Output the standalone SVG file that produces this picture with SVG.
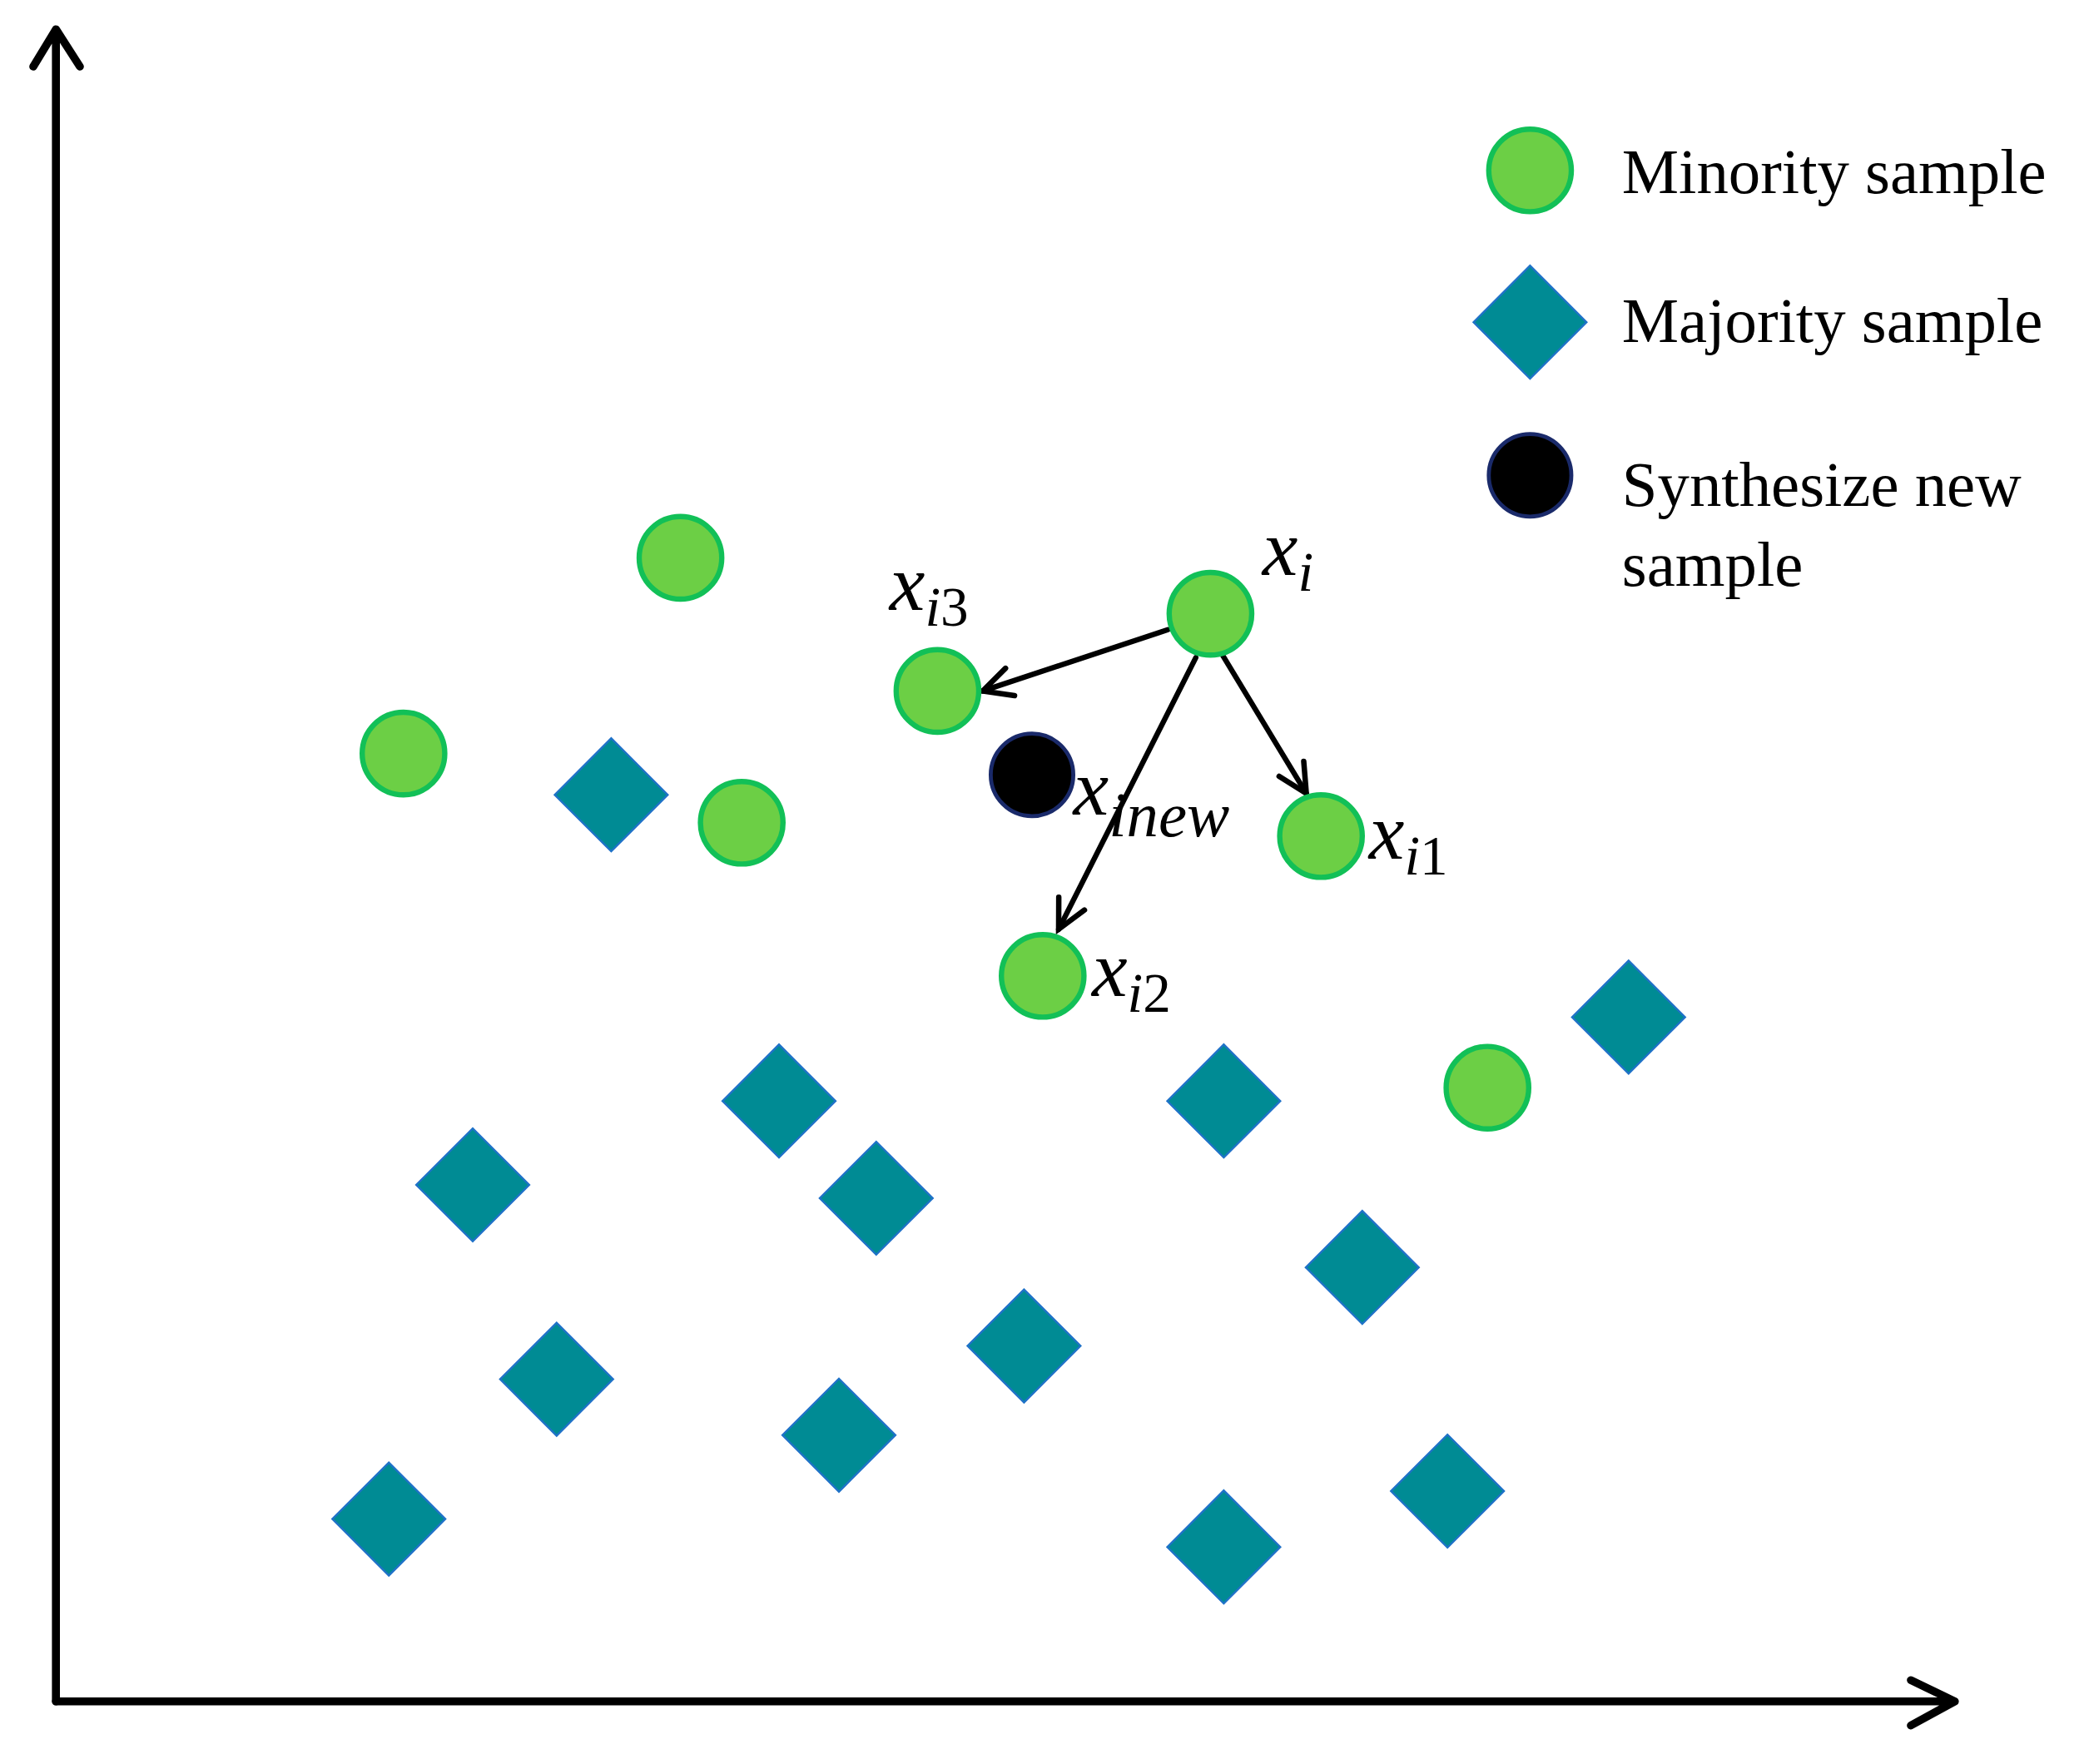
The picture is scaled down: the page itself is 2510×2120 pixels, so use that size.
<svg xmlns="http://www.w3.org/2000/svg" width="2510" height="2120" viewBox="0 0 2510 2120">
<style>
.min{fill:#6ccf45;stroke:#12c057;stroke-width:4}
.new{fill:#000;stroke:#1a2a6a;stroke-width:3}
.maj{fill:#008b94;stroke:#1f72c8;stroke-width:1.5}
.ax{fill:none;stroke:#000;stroke-width:6;stroke-linecap:round;stroke-linejoin:round}
.ar{fill:none;stroke:#000;stroke-width:4;stroke-linecap:round}
.lg{font-family:"Liberation Serif",serif;font-size:48px;fill:#000}
.m{font-family:"Liberation Serif",serif;font-style:italic;font-size:60px;fill:#000}
.s{font-size:42px}
.d{font-style:normal}
</style>
<defs>
<marker id="ah" viewBox="0 0 10 10" refX="9" refY="5" markerWidth="24" markerHeight="24" orient="auto" markerUnits="userSpaceOnUse" style="overflow:visible">
<path d="M0,0.5 L9,5 L0,9.5" fill="none" stroke="#000" stroke-width="1.7" stroke-linecap="round"/>
</marker>
<rect id="dm" x="-30" y="-30" width="60" height="60" transform="rotate(45)" class="maj"/>
</defs>
<rect width="2510" height="2120" fill="#fff"/>
<g transform="scale(1.6)">
<g id="axes">
<path class="ax" d="M42,1278 V22 M25,50 L42,22 L60,50"/>
<path class="ax" d="M42,1278 H1468 M1435,1262 L1468,1278 L1435,1296"/>
</g>
<g id="connectors">
<line class="ar" x1="877" y1="473" x2="738" y2="519" marker-end="url(#ah)"/>
<line class="ar" x1="918" y1="492" x2="981" y2="596" marker-end="url(#ah)"/>
<line class="ar" x1="898" y1="494" x2="795" y2="698" marker-end="url(#ah)"/>
</g>
<g id="majority">
<use href="#dm" x="459" y="597"/><use href="#dm" x="585" y="827"/><use href="#dm" x="355" y="890"/>
<use href="#dm" x="658" y="900"/><use href="#dm" x="418" y="1036"/><use href="#dm" x="769" y="1011"/>
<use href="#dm" x="630" y="1078"/><use href="#dm" x="292" y="1141"/><use href="#dm" x="919" y="827"/>
<use href="#dm" x="1023" y="952"/><use href="#dm" x="1087" y="1120"/><use href="#dm" x="919" y="1162"/>
<use href="#dm" x="1223" y="764"/>
</g>
<g id="minority">
<circle class="min" cx="511" cy="419" r="31"/><circle class="min" cx="303" cy="566" r="31"/>
<circle class="min" cx="557" cy="618" r="31"/><circle class="min" cx="1117" cy="817" r="31"/>
</g>
<g id="xi"><circle class="min" cx="909" cy="461" r="31"/><text class="m" x="948" y="432">x<tspan class="s" dy="12">i</tspan></text></g>
<g id="xi3"><circle class="min" cx="704" cy="519" r="31"/><text class="m" x="668" y="458">x<tspan class="s" dy="12">i<tspan class="d">3</tspan></tspan></text></g>
<g id="xi1"><circle class="min" cx="992" cy="628" r="31"/><text class="m" x="1028" y="645">x<tspan class="s" dy="12">i<tspan class="d">1</tspan></tspan></text></g>
<g id="xi2"><circle class="min" cx="783" cy="733" r="31"/><text class="m" x="820" y="748">x<tspan class="s" dy="12">i<tspan class="d">2</tspan></tspan></text></g>
<g id="xinew"><circle class="new" cx="775" cy="582" r="31"/><text class="m" x="806" y="612">x<tspan dy="16" style="font-size:48px">inew</tspan></text></g>
<g id="legend">
<circle class="min" cx="1149" cy="128" r="31"/><text class="lg" x="1218" y="145">Minority sample</text>
<use href="#dm" x="1149" y="242"/><text class="lg" x="1218" y="257">Majority sample</text>
<circle class="new" cx="1149" cy="357" r="31"/><text class="lg" x="1218" y="380">Synthesize new</text>
<text class="lg" x="1218" y="440">sample</text>
</g>
</g>
</svg>
